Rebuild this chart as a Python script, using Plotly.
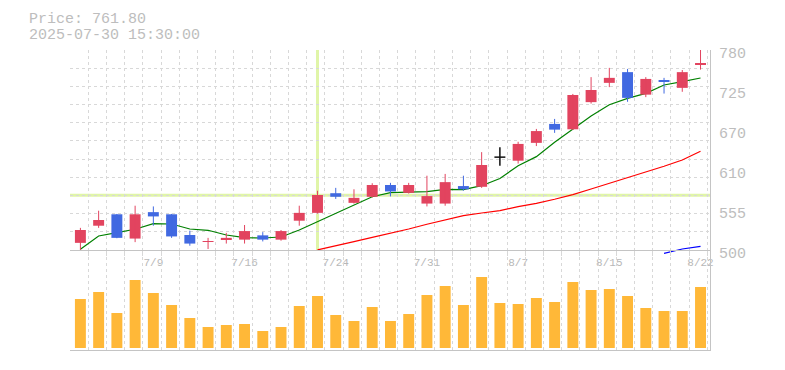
import plotly.graph_objects as go

# ---------------- data ----------------
dates = ['7/3', '7/4', '7/7', '7/8', '7/9', '7/10', '7/11', '7/14', '7/15', '7/16',
         '7/17', '7/18', '7/22', '7/23', '7/24', '7/25', '7/28', '7/29', '7/30', '7/31',
         '8/1', '8/4', '8/5', '8/6', '8/7', '8/8', '8/12', '8/13', '8/14', '8/15',
         '8/18', '8/19', '8/20', '8/21', '8/22']
opens = [510, 534, 550, 516, 553, 550, 521, 511.4, 514.5, 514.5,
         520.5, 514.5, 541, 552, 579.5, 566, 574.5, 591, 580, 565,
         565, 589.5, 588.5, 630, 625, 650, 676.5, 669, 707, 734,
         749, 717.5, 738, 727, 759.5]
highs = [531, 555, 550.5, 562, 561, 550.5, 527, 517, 524, 535,
         525, 528, 562, 583, 587, 585, 593.5, 594, 594, 604,
         606.5, 604, 637, 644, 651.5, 669.5, 683.5, 718.5, 742, 755,
         753.5, 742, 741, 752, 780]
lows = [500, 531, 516.5, 511, 534, 517, 506, 501.4, 509, 509,
        512, 513, 534, 551, 571.5, 565, 573.5, 575, 579, 561,
        562, 583, 587, 618, 621, 645.5, 664, 668, 705, 728,
        707.5, 714, 719, 721.5, 752.5]
closes = [528, 542, 517, 550, 547, 519, 509, 512.6, 517, 526.5,
          514.5, 526.5, 552, 577, 574.5, 573, 591, 582, 591, 575.5,
          595, 585, 619, 630, 648.5, 666.5, 668.5, 717, 724, 741,
          713, 739.5, 735.5, 749, 761.8]
ma_short = [501, 519.6, 524.3, 529, 536.8, 536.4, 529.4, 527.6, 521, 517.2,
            516.8, 518.2, 528, 539.7, 550.8, 562, 574.6, 580.2, 581.2, 581.6,
            585, 584.4, 590, 600, 618, 630.7, 650.8, 669, 687.6, 703.4,
            712.3, 719.3, 731, 735.6, 740.8]
ma_mid = [None] * 13 + [500.3, 505.6, 511.7, 517.7, 523.3, 529.4, 536, 542, 548, 551.8,
                        555, 560.7, 565.3, 571, 577.5, 585.4, 593.3, 601.3, 608.8, 617.2,
                        626, 638.2]
ma_long = [None] * 32 + [495.3, 501.4, 505.1]
volumes = [49, 56, 35, 68, 55, 43, 30, 21, 23, 24,
           17, 21, 42, 52, 33, 27, 41, 27, 34, 53,
           62, 43, 71, 45, 44, 50, 46, 66, 58, 59,
           52, 40, 37, 37, 61]
tick_dates = ['7/9', '7/16', '7/24', '7/31', '8/7', '8/15', '8/22']
price_ticks = [500, 556, 612, 668, 724, 780]
price_tick_labels = ['500', '555', '610', '670', '725', '780']
header_price = '761.80'
header_time = '2025-07-30 15:30:00'
cross_date = '7/23'
cross_price = 576.6

# ---------------- styles / layout helpers ----------------
W, H = 785, 370
RED = '#E2445F'
BLUE = '#4169E1'
BLACK = '#111111'
VOL = '#FFB838'
GRID = '#d8d8d8'
AXIS = '#c4c4c4'
TXT = '#bdbdbd'
MONO = 'Liberation Mono'


def fx(px):
    return px / W


def fy(py):
    return (H - py) / H


XDOM = [fx(70), fx(710)]
XR = [-0.57, 34.52]
GRID_STEP_PX = 18.21
GRID_XR = [0, 640 / GRID_STEP_PX]
PPX = (price_ticks[-1] - price_ticks[0]) / 200.0  # price units per px

idx = list(range(len(dates)))
fig = go.Figure()

# moving averages (lowest layer)
for vals, col in ((ma_short, '#008000'), (ma_mid, '#FF0000'), (ma_long, '#0000FF')):
    fig.add_trace(go.Scatter(x=idx, y=vals, mode='lines', line=dict(color=col, width=1.2),
                             xaxis='x', yaxis='y', hoverinfo='skip'))

# grid carriers
fig.add_trace(go.Scatter(x=[None], y=[None], xaxis='x3', yaxis='y3', hoverinfo='skip'))
fig.add_trace(go.Scatter(x=[None], y=[None], xaxis='x5', yaxis='y4', hoverinfo='skip'))

# candles
up = [i for i in idx if closes[i] > opens[i]]
down = [i for i in idx if closes[i] < opens[i]]
flat = [i for i in idx if closes[i] == opens[i]]
for group, col in ((up, RED), (down, BLUE)):
    fig.add_trace(go.Bar(x=group,
                         base=[min(opens[i], closes[i]) for i in group],
                         y=[abs(closes[i] - opens[i]) for i in group],
                         width=0.6, marker=dict(color=col, line=dict(width=0)),
                         xaxis='x2', yaxis='y2', hoverinfo='skip'))
    wx, wy = [], []
    for i in group:
        wx += [i, i, None]
        wy += [lows[i], highs[i], None]
    fig.add_trace(go.Scatter(x=wx, y=wy, mode='lines', line=dict(color=col, width=1),
                             xaxis='x2', yaxis='y2', hoverinfo='skip'))
wx, wy = [], []
for i in flat:
    wx += [i, i, None, i - 0.3, i + 0.3, None]
    wy += [lows[i], highs[i], None, opens[i], opens[i], None]
fig.add_trace(go.Scatter(x=wx, y=wy, mode='lines', line=dict(color=BLACK, width=1.5),
                         xaxis='x2', yaxis='y2', hoverinfo='skip'))

# volume
fig.add_trace(go.Bar(x=idx, y=volumes, width=0.6, marker=dict(color=VOL, line=dict(width=0)),
                     xaxis='x4', yaxis='y4', hoverinfo='skip'))

ci = dates.index(cross_date)
shapes = [
    dict(type='line', xref='x', yref='y', x0=ci, x1=ci, y0=price_ticks[0], y1=price_ticks[-1],
         line=dict(color='#E0F5A8', width=3), layer='below'),
    dict(type='line', xref='x domain', yref='y', x0=0, x1=1, y0=cross_price, y1=cross_price,
         line=dict(color='#E0F5A8', width=3), layer='below'),
]

grid_common = dict(showgrid=True, gridcolor=GRID, griddash='3px,3px', gridwidth=1,
                   showticklabels=False, ticks='', zeroline=False, showline=False,
                   tick0=0, dtick=1, automargin=False)

fig.update_layout(
    template='none',
    width=W, height=H, margin=dict(l=0, r=0, t=0, b=0, pad=0, autoexpand=False),
    paper_bgcolor='white', plot_bgcolor='rgba(0,0,0,0)',
    showlegend=False, hovermode=False, barmode='overlay',
    shapes=shapes,
    xaxis=dict(domain=XDOM, range=XR, visible=False, anchor='y', automargin=False),
    yaxis=dict(domain=[fy(256), fy(50)], range=[price_ticks[0] - 6 * PPX, price_ticks[-1]],
               visible=False, anchor='x', automargin=False),
    xaxis3=dict(overlaying='x', anchor='y3', range=GRID_XR, **grid_common),
    yaxis3=dict(overlaying='y', anchor='x3', range=[-6 / (200 / 11), 11], **grid_common),
    xaxis2=dict(domain=XDOM, range=XR, anchor='y2', showgrid=False, zeroline=False,
                showline=True, linecolor=AXIS, linewidth=1, ticks='', automargin=False,
                tickvals=[dates.index(d) for d in tick_dates], ticktext=tick_dates,
                tickfont=dict(family=MONO, size=11, color='#b8b8b8'),
                ticklabelstandoff=2),
    yaxis2=dict(domain=[fy(250), fy(50)], range=[price_ticks[0], price_ticks[-1]],
                anchor='x2', side='right', showgrid=False, zeroline=False, automargin=False,
                showline=True, linecolor=AXIS, linewidth=1, ticks='',
                tickvals=price_ticks, ticktext=price_tick_labels,
                tickfont=dict(family=MONO, size=15, color=TXT),
                ticklabelshift=3, ticklabelstandoff=5),
    xaxis4=dict(domain=XDOM, range=XR, anchor='y4', showgrid=False, zeroline=False,
                automargin=False,
                showline=True, linecolor=AXIS, linewidth=1, showticklabels=False, ticks=''),
    yaxis4=dict(domain=[fy(350), fy(251)], range=[-2, 97], anchor='x4', side='right',
                showgrid=False, zeroline=False, showline=True, linecolor=AXIS, linewidth=1,
                showticklabels=False, ticks='', automargin=False),
    xaxis5=dict(overlaying='x4', anchor='y4', range=GRID_XR, **grid_common),
    annotations=[
        dict(text='Price: ' + header_price, xref='paper', yref='paper', x=fx(28), y=fy(19.2),
             xanchor='left', yanchor='middle', showarrow=False, height=14, borderpad=0,
             font=dict(family=MONO, size=15, color=TXT)),
        dict(text=header_time, xref='paper', yref='paper', x=fx(28), y=fy(34.5),
             xanchor='left', yanchor='middle', showarrow=False, height=14, borderpad=0,
             font=dict(family=MONO, size=15, color=TXT)),
    ],
)

fig.write_html('out.html', post_script="document.body.style.margin='0';",
               config={'displayModeBar': False})
